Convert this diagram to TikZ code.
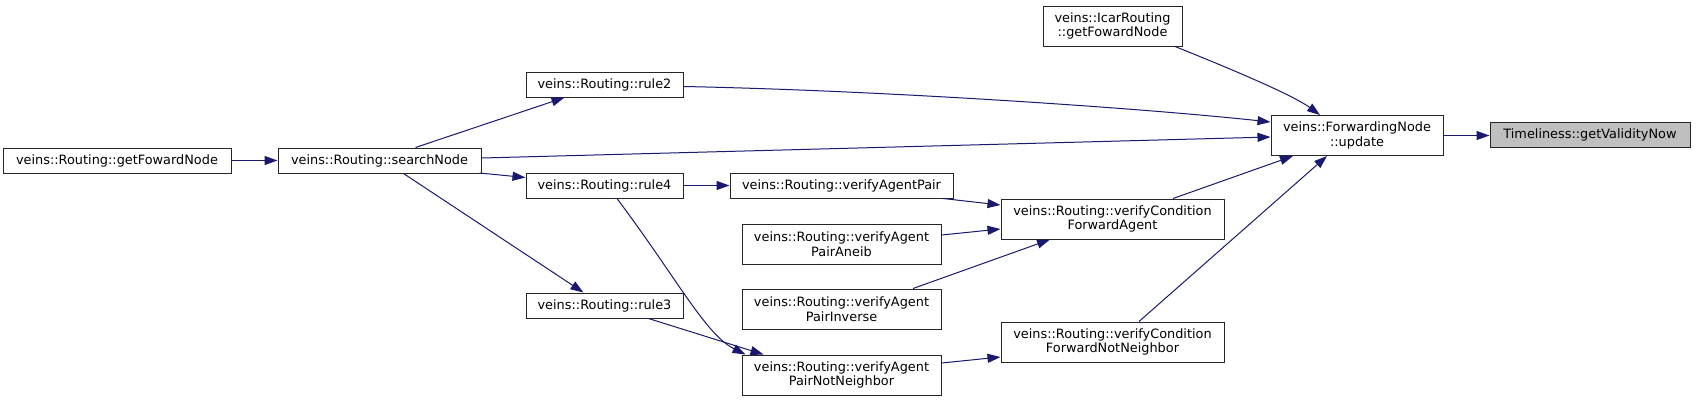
\documentclass[tikz,border=0pt]{standalone}
\usepackage{fontspec}
\setmainfont{DejaVu Sans}
\usetikzlibrary{arrows.meta,calc}
\definecolor{edgeblue}{HTML}{191970}
\definecolor{rootgray}{HTML}{BFBFBF}
\begin{document}
\begin{tikzpicture}[x=0.75pt,y=-0.75pt,
  box/.style={draw=black!85, line width=0.75pt, fill=white, inner sep=0pt, align=center,
    font=\fontsize{9.65pt}{11pt}\selectfont},
  bw/.style 2 args={minimum width=#1*0.75pt, minimum height=#2*0.75pt},
  e/.style={draw=edgeblue, line width=0.75pt, -{Triangle[length=9.75pt,width=6.75pt]}}]
\useasboundingbox[fill=white] (0,0) rectangle (1696,401);
\node[box, bw={228}{25}] (gfn) at (117,160.5) {veins::Routing::getFowardNode};
\node[box, bw={203}{25}] (sn) at (379.5,160.5) {veins::Routing::searchNode};
\node[box, bw={157}{25}] (r2) at (604.5,84.5) {veins::Routing::rule2};
\node[box, bw={157}{25}] (r4) at (604.5,185.5) {veins::Routing::rule4};
\node[box, bw={157}{25}] (r3) at (604.5,305.5) {veins::Routing::rule3};
\node[box, bw={223}{25}] (vap) at (841.5,185.5) {veins::Routing::verifyAgentPair};
\node[box, bw={199}{40}] (ane) at (841.5,244) {veins::Routing::verifyAgent\\PairAneib};
\node[box, bw={199}{40}] (inv) at (841.5,309) {veins::Routing::verifyAgent\\PairInverse};
\node[box, bw={199}{40}] (nn) at (841.5,375) {veins::Routing::verifyAgent\\PairNotNeighbor};
\node[box, bw={223}{40}] (cfa) at (1112.5,219) {veins::Routing::verifyCondition\\ForwardAgent};
\node[box, bw={223}{40}] (cfnn) at (1112.5,342) {veins::Routing::verifyCondition\\ForwardNotNeighbor};
\node[box, bw={139}{40}] (icar) at (1112.5,26) {veins::IcarRouting\\::getFowardNode};
\node[box, bw={172}{40}] (upd) at (1357,135.5) {veins::ForwardingNode\\::update};
\node[box, bw={200}{25}, fill=rootgray] (tl) at (1590,134.5) {Timeliness::getValidityNow};

\draw[e] (gfn.east) -- (sn.west);
\draw[e] ($(sn.north)+(36,0)$) -- ($(r2.south)+(-40,0)$);
\draw[e] ($(sn.east)+(0,-2.5)$) -- ($(upd.west)+(0,1.5)$);
\draw[e] ($(sn.east)+(-2,12.5)$) -- ($(r4.west)+(0,-8)$);
\draw[e] ($(sn.south)+(24,0)$) -- ($(r3.north)+(-21,0)$);
\draw[e] ($(r2.east)+(0,2)$) .. controls +(200,4) and +(-130,-14) .. ($(upd.west)+(0,-13.5)$);
\draw[e] ($(icar.south)+(62.5,0)$) .. controls +(35,14) and +(-30,-22) .. ($(upd.north)+(-37,0)$);
\draw[e] (r4.east) -- (vap.west);
\draw[e] ($(r4.south)+(12.5,0)$) .. controls +(60,80) and +(-40,-20) .. ($(nn.north)+(-96,0)$);
\draw[e] ($(r3.south)+(44,0)$) -- ($(nn.north)+(-78,0)$);
\draw[e] ($(vap.south)+(101.5,0)$) -- ($(cfa.west)+(0,-14)$);
\draw[e] ($(ane.east)+(0,-9)$) -- ($(cfa.west)+(0,10)$);
\draw[e] ($(inv.north)+(71.5,0)$) -- ($(cfa.south)+(-62.5,0)$);
\draw[e] ($(nn.east)+(0,-12)$) -- ($(cfnn.west)+(0,15)$);
\draw[e] ($(cfa.north)+(60.5,0)$) -- ($(upd.south)+(-64,0)$);
\draw[e] ($(cfnn.north)+(26.5,0)$) -- ($(upd.south)+(-30,0)$);
\draw[e] (upd.east) -- (upd.east -| tl.west);
\end{tikzpicture}
\end{document}
